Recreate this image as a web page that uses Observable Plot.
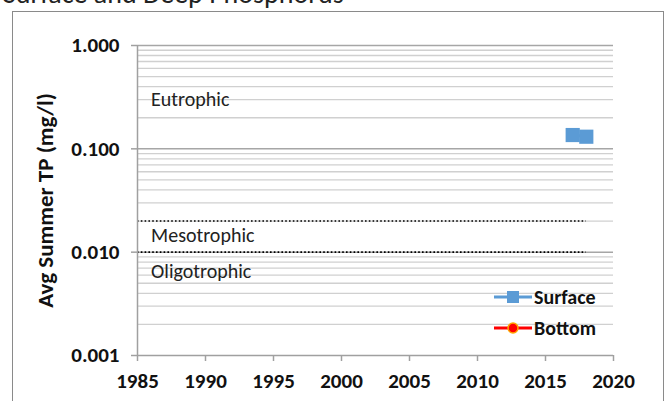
<!DOCTYPE html>
<html>
<head>
<meta charset="utf-8">
<script src="https://cdn.jsdelivr.net/npm/d3@7"></script>
<script src="https://cdn.jsdelivr.net/npm/@observablehq/plot@0.6"></script>
<style>
  html, body { margin: 0; padding: 0; background: #fff; overflow: hidden; }
  #wrap { position: relative; width: 670px; height: 401px; overflow: hidden; font-family: Carlito, Lato, sans-serif; }
  #title { position: absolute; left: 3px; top: -20px; font-size: 28px; line-height: 28px; color: #222; white-space: nowrap; }
  #frame { position: absolute; left: 12px; top: 11px; width: 652px; height: 400px; border: 1.5px solid #8a8a8a; box-sizing: border-box; }
  #plot { position: absolute; left: 0; top: 0; }
  #legend { position: absolute; left: 493px; top: 281px; font-weight: bold; font-size: 20px; color: #111; }
  .li { display: flex; align-items: center; height: 31px; }
  .li svg { margin-right: 1px; }
</style>
</head>
<body>
<div id="wrap">
  <div id="title">Surface and Deep Phosphorus</div>
  <div id="frame"></div>
  <div id="plot"></div>
  <div id="legend">
    <div class="li"><svg width="40" height="14"><line x1="1" x2="39" y1="7" y2="7" stroke="#5b9bd5" stroke-width="3"/><rect x="14" y="1" width="12" height="12" fill="#5b9bd5"/></svg>Surface</div>
    <div class="li"><svg width="40" height="14"><line x1="1" x2="39" y1="7" y2="7" stroke="#ff0000" stroke-width="3"/><circle cx="20" cy="7" r="5" fill="#ff0000" stroke="#ffa500" stroke-width="1.5"/></svg>Bottom</div>
  </div>
</div>
<script>
// Data
const surfaceYears = [2017, 2018];
const surfaceTP = [0.136, 0.131];
const bottomYears = [];
const bottomTP = [];
const thresholds = [0.02, 0.01];
const thresholdSpan = [1985, 2018];
const zoneLabels = ["Eutrophic", "Mesotrophic", "Oligotrophic"];
const zoneValues = [0.3, 0.0145, 0.0065];
const zoneYear = [1986, 1986, 1986];
const yTicks = [0.001, 0.01, 0.1, 1];
const xTicks = [1985, 1990, 1995, 2000, 2005, 2010, 2015, 2020];

const surface = surfaceYears.map((y, i) => ({year: y, tp: surfaceTP[i]}));
const zones = zoneLabels.map((t, i) => ({label: t, tp: zoneValues[i], year: zoneYear[i]}));
const minor = [];
for (const d of [0.001, 0.01, 0.1]) for (let k = 2; k <= 9; k++) minor.push(+(d * k).toPrecision(3));

const font = "Carlito, Lato, sans-serif";
const chart = Plot.plot({
  width: 670,
  height: 401,
  marginLeft: 137,
  marginRight: 57,
  marginTop: 45,
  marginBottom: 46,
  style: {fontFamily: font, background: "transparent", overflow: "visible"},
  x: {domain: [1985, 2020]},
  y: {type: "log", domain: [0.001, 1]},
  marks: [
    Plot.ruleY(minor, {stroke: "#d0d0d0", strokeWidth: 1.3}),
    Plot.ruleY([0.01, 0.1, 1], {stroke: "#a6a6a6", strokeWidth: 1.5}),
    Plot.ruleY(thresholds, {x1: thresholdSpan[0], x2: thresholdSpan[1], stroke: "#000", strokeWidth: 1.6, strokeDasharray: "1.6,2.2"}),
    Plot.text(zones, {x: "year", y: "tp", text: "label", textAnchor: "start", fontSize: 20, fill: "#222"}),
    Plot.axisY({ticks: yTicks, tickFormat: d3.format(".3f"), tickSize: 6, tickPadding: 12, label: null, fontSize: 21, fontWeight: "bold", stroke: "#a0a0a0", strokeWidth: 1.5, fill: "#111"}),
    Plot.axisX({ticks: xTicks, tickFormat: d3.format("d"), tickSize: 6, tickPadding: 12, label: null, fontSize: 21, fontWeight: "bold", stroke: "#a0a0a0", strokeWidth: 1.5, fill: "#111"}),
    Plot.ruleX([1985], {y1: 0.001, y2: 1, stroke: "#a0a0a0", strokeWidth: 1.5}),
    Plot.ruleY([0.001], {stroke: "#a0a0a0", strokeWidth: 1.5}),
    Plot.line(surface, {x: "year", y: "tp", stroke: "#5b9bd5", strokeWidth: 3}),
    Plot.dot(surface, {x: "year", y: "tp", symbol: "square", r: 8, fill: "#5b9bd5"}),
    Plot.text(["Avg Summer TP (mg/l)"], {frameAnchor: "left", textAnchor: "middle", dx: -92, dy: 0, rotate: -90, fontSize: 23, fontWeight: "bold", fill: "#111", text: d => d})
  ]
});
document.getElementById("plot").appendChild(chart);
</script>
</body>
</html>
